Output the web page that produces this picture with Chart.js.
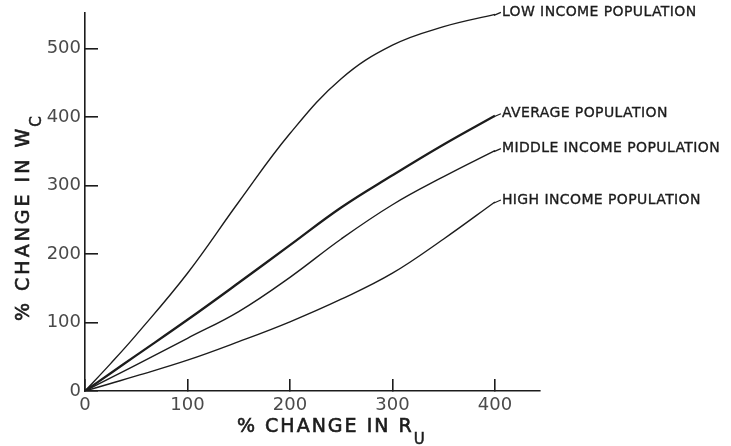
<!DOCTYPE html>
<html>
<head>
<meta charset="utf-8">
<title>% Change in Wc vs % Change in Ru</title>
<script src="https://cdn.jsdelivr.net/npm/chart.js@4.4.1/dist/chart.umd.min.js"></script>
<style>
  html, body { margin: 0; padding: 0; background: #ffffff; }
  #wrap { width: 731px; height: 446px; }
</style>
</head>
<body>
<div id="wrap"><canvas id="chart" width="731" height="446"></canvas></div>
<script>
// Percent change in R_U (shared x samples for every curve)
const ruChange = [0, 25, 50, 100, 150, 200, 250, 300, 350, 400];

// Percent change in W_C for each population group
const lowIncome    = [0, 40, 82, 172, 276, 376, 456, 505, 532, 550];
const average      = [0, 26, 52, 104, 158, 213, 268, 315, 360, 402];
const middleIncome = [0, 19, 38, 77, 116, 166, 222, 272, 313, 351];
const highIncome   = [0, 11, 22, 45, 72, 101, 134, 172, 222, 276];

// Curve labels
const seriesNames = ['LOW INCOME POPULATION', 'AVERAGE POPULATION', 'MIDDLE INCOME POPULATION', 'HIGH INCOME POPULATION'];

// Axis ticks and ranges
const xTicks = [0, 100, 200, 300, 400];
const yTicks = [0, 100, 200, 300, 400, 500];
const xMax = 444;
const yMax = 552;

const INK = '#1c1c1c';

function toPoints(ys) {
  return ruChange.map((x, i) => ({ x: x, y: ys[i] }));
}

// Text with letter spacing; a thin stroke thickens the lettering a little
function drawSpaced(ctx, text, x, y, spacing, weight) {
  ctx.letterSpacing = spacing + 'px';
  ctx.fillText(text, x, y);
  if (weight) {
    ctx.lineWidth = weight;
    ctx.strokeText(text, x, y);
  }
  const w = ctx.measureText(text).width;
  ctx.letterSpacing = '0px';
  return w;
}

// Curve end labels and axis titles with subscripts
const decorations = {
  id: 'decorations',
  afterDraw(chart) {
    const ctx = chart.ctx;
    const xs = chart.scales.x;
    const ys = chart.scales.y;
    ctx.save();

    // labels at the end of each curve, joined by a short leader
    ctx.fillStyle = INK;
    ctx.strokeStyle = INK;
    ctx.font = '14px "DejaVu Sans"';
    ctx.textBaseline = 'middle';
    ctx.textAlign = 'left';
    chart.data.datasets.forEach((ds, i) => {
      const last = ds.data[ds.data.length - 1];
      const px = xs.getPixelForValue(last.x);
      const py = ys.getPixelForValue(last.y);
      ctx.lineWidth = 1.2;
      ctx.beginPath();
      ctx.moveTo(px - 1, py + 1);
      ctx.lineTo(px + 6, py - 2);
      ctx.stroke();
      drawSpaced(ctx, seriesNames[i], px + 7, py - 2, 0.4, 0.35);
    });

    // x axis title: % CHANGE IN R with subscript U
    ctx.textBaseline = 'alphabetic';
    ctx.font = '19px "DejaVu Sans"';
    const xw = drawSpaced(ctx, '% CHANGE IN R', 237, 432, 2, 0.6);
    ctx.font = '15px "DejaVu Sans"';
    drawSpaced(ctx, 'U', 237 + xw, 444, 0, 0.5);

    // y axis title: % CHANGE IN W with subscript C, rotated
    ctx.save();
    ctx.translate(29, 321);
    ctx.rotate(-Math.PI / 2);
    ctx.font = '19px "DejaVu Sans"';
    const yw = drawSpaced(ctx, '% CHANGE IN W', 0, 0, 3, 0.6);
    ctx.font = '15px "DejaVu Sans"';
    drawSpaced(ctx, 'C', yw - 1, 12, 0, 0.5);
    ctx.restore();

    ctx.restore();
  }
};

const lineStyle = (data, width) => ({
  data: toPoints(data),
  borderColor: INK,
  borderWidth: width,
  pointRadius: 0,
  fill: false,
  tension: 0.4
});

// Tick marks point into the plot (negative tick length), no grid lines
const inwardGrid = (len) => ({
  display: true,
  drawOnChartArea: false,
  drawTicks: true,
  tickLength: -len,
  color: INK,
  lineWidth: 1.6
});

new Chart(document.getElementById('chart'), {
  type: 'line',
  data: {
    datasets: [
      Object.assign({ label: seriesNames[0] }, lineStyle(lowIncome, 1.4)),
      Object.assign({ label: seriesNames[1] }, lineStyle(average, 2.3)),
      Object.assign({ label: seriesNames[2] }, lineStyle(middleIncome, 1.4)),
      Object.assign({ label: seriesNames[3] }, lineStyle(highIncome, 1.4))
    ]
  },
  options: {
    responsive: false,
    animation: false,
    devicePixelRatio: 1,
    layout: { padding: { top: 13, right: 191, left: 0, bottom: 0 } },
    plugins: { legend: { display: false }, tooltip: { enabled: false } },
    scales: {
      x: {
        type: 'linear',
        min: 0,
        max: xMax,
        afterFit(scale) { scale.height = 55; },
        afterBuildTicks(scale) { scale.ticks = xTicks.map(v => ({ value: v })); },
        grid: inwardGrid(12),
        border: { display: true, color: INK, width: 1.6 },
        ticks: {
          padding: 16,
          color: '#4a4a4a',
          font: { family: 'DejaVu Sans', size: 18 },
          callback: v => String(v)
        }
      },
      y: {
        type: 'linear',
        min: 0,
        max: yMax,
        afterFit(scale) {
          scale.width = 85;
          scale.paddingTop = 0;
          scale.paddingBottom = 0;
        },
        afterBuildTicks(scale) { scale.ticks = yTicks.map(v => ({ value: v })); },
        grid: inwardGrid(13),
        border: { display: true, color: INK, width: 1.6 },
        ticks: {
          padding: 17,
          color: '#4a4a4a',
          font: { family: 'DejaVu Sans', size: 18 },
          callback: v => String(v)
        }
      }
    }
  },
  plugins: [decorations]
});
</script>
</body>
</html>
